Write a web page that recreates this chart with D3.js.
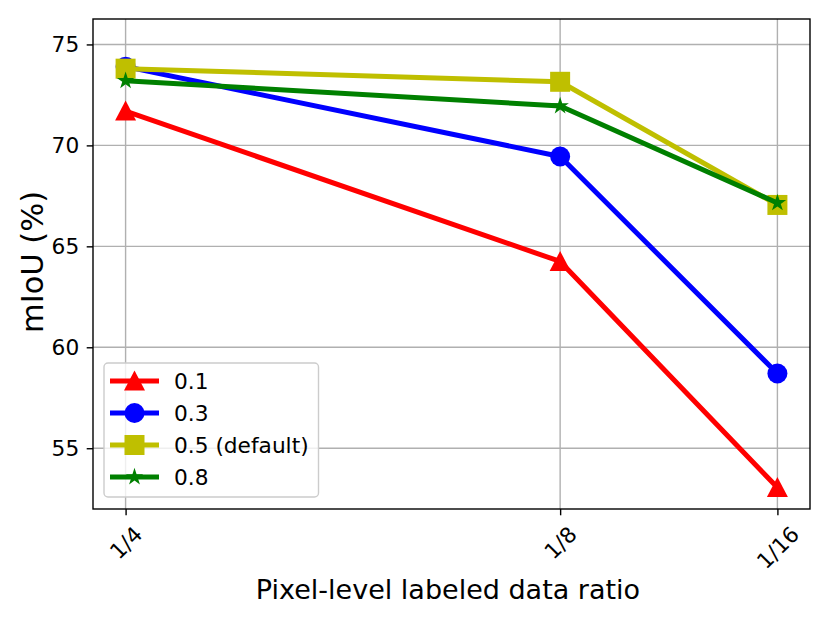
<!DOCTYPE html>
<html>
<head>
<meta charset="utf-8">
<script src="https://cdn.jsdelivr.net/npm/d3@7"></script>
<style>
  body { margin: 0; background: #fff; }
  text { font-family: "DejaVu Sans", sans-serif; fill: #000; }
</style>
</head>
<body>
<div id="display"></div>
<script>
// data
const ratios = [1/4, 1/8, 1/16];
const ratio_labels = ['1/4', '1/8', '1/16'];
const y_ticks = [55, 60, 65, 70, 75];

const series_names = ['0.1', '0.3', '0.5 (default)', '0.8'];
const series_colors = ['#ff0000', '#0000ff', '#bfbf00', '#008000'];
const series_markers = ['triangle', 'circle', 'square', 'star'];
const vals_01 = [71.7, 64.25, 53.05];
const vals_03 = [73.9, 69.45, 58.7];
const vals_05 = [73.8, 73.15, 67.05];
const vals_08 = [73.2, 71.95, 67.15];
const series_vals = [vals_01, vals_03, vals_05, vals_08];

const W = 830, H = 618;
const plot = {left: 93, right: 810, top: 19, bottom: 509};
const tickFont = 21.7;

const svg = d3.select('#display')
  .append('svg')
  .attr('width', W)
  .attr('height', H);

// x axis is reversed: 1/4 on the left
const x = d3.scaleLinear()
  .domain([0.259375, 0.053125])
  .range([plot.left, plot.right]);
const y = d3.scaleLinear()
  .domain([51.99, 76.26])
  .range([plot.bottom, plot.top]);

// grid
const grid = svg.append('g');
ratios.forEach(r => {
  grid.append('line')
    .attr('x1', x(r)).attr('x2', x(r))
    .attr('y1', plot.top).attr('y2', plot.bottom)
    .attr('stroke', '#b0b0b0').attr('stroke-width', 1.4);
});
y_ticks.forEach(t => {
  grid.append('line')
    .attr('x1', plot.left).attr('x2', plot.right)
    .attr('y1', y(t)).attr('y2', y(t))
    .attr('stroke', '#b0b0b0').attr('stroke-width', 1.4);
});

// axes
const xAxis = d3.axisBottom(x)
  .tickValues(ratios)
  .tickFormat((d, i) => ratio_labels[i])
  .tickSize(6.3)
  .tickSizeOuter(0);
const gx = svg.append('g')
  .attr('transform', `translate(0,${plot.bottom})`)
  .call(xAxis);
gx.select('.domain').remove();
gx.selectAll('.tick line').attr('stroke', '#000').attr('stroke-width', 1.4);
gx.selectAll('.tick text').remove();
gx.selectAll('.tick').each(function (d, i) {
  const lbl = ratio_labels[i];
  const t = d3.select(this).append('text')
    .attr('text-anchor', 'middle')
    .attr('dominant-baseline', 'central')
    .attr('font-size', tickFont + 'px')
    .text(lbl);
  // rotated box sits just under the tick, like matplotlib
  const w = t.node().getComputedTextLength();
  const h = tickFont * 1.164;
  const cy = 12.6 + (w + h) / Math.SQRT2 / 2;
  t.attr('transform', `translate(0,${cy}) rotate(-45)`);
});

const yAxis = d3.axisLeft(y)
  .tickValues(y_ticks)
  .tickSize(6.3)
  .tickPadding(7.5)
  .tickSizeOuter(0);
const gy = svg.append('g')
  .attr('transform', `translate(${plot.left},0)`)
  .call(yAxis);
gy.select('.domain').remove();
gy.selectAll('.tick line').attr('stroke', '#000').attr('stroke-width', 1.4);
gy.selectAll('.tick text')
  .attr('font-size', tickFont + 'px')
  .attr('font-family', '"DejaVu Sans", sans-serif')
  .attr('fill', '#000');

// frame
svg.append('rect')
  .attr('x', plot.left).attr('y', plot.top)
  .attr('width', plot.right - plot.left)
  .attr('height', plot.bottom - plot.top)
  .attr('fill', 'none')
  .attr('stroke', '#000')
  .attr('stroke-width', 1.4);

// markers
function markerPath(kind) {
  if (kind === 'triangle') return 'M0,-10.5L10.5,9.5L-10.5,9.5Z';
  if (kind === 'circle') return d3.symbol(d3.symbolCircle, Math.PI * 100)();
  if (kind === 'square') return d3.symbol(d3.symbolSquare, 400)();
  return d3.symbol(d3.symbolStar, 95)();
}

const line = d3.line()
  .x((d, i) => x(ratios[i]))
  .y(d => y(d));

series_vals.forEach((vals, s) => {
  const g = svg.append('g');
  g.append('path')
    .datum(vals)
    .attr('d', line)
    .attr('fill', 'none')
    .attr('stroke', series_colors[s])
    .attr('stroke-width', 5)
    .attr('stroke-linejoin', 'round');
  g.selectAll('.mk')
    .data(vals)
    .enter()
    .append('path')
    .attr('d', markerPath(series_markers[s]))
    .attr('transform', (d, i) => `translate(${x(ratios[i])},${y(d)})`)
    .attr('fill', series_colors[s]);
});

// legend
const leg = svg.append('g').attr('transform', 'translate(104,363)');
leg.append('rect')
  .attr('width', 214.5).attr('height', 134)
  .attr('rx', 4).attr('ry', 4)
  .attr('fill', 'white').attr('fill-opacity', 0.8)
  .attr('stroke', '#cccccc').attr('stroke-width', 1.4);
series_names.forEach((name, s) => {
  const ry = 18 + s * 32;
  leg.append('line')
    .attr('x1', 6).attr('x2', 55)
    .attr('y1', ry).attr('y2', ry)
    .attr('stroke', series_colors[s])
    .attr('stroke-width', 5);
  leg.append('path')
    .attr('d', markerPath(series_markers[s]))
    .attr('transform', `translate(30.5,${ry})`)
    .attr('fill', series_colors[s]);
  leg.append('text')
    .attr('x', 70).attr('y', ry)
    .attr('dominant-baseline', 'central')
    .attr('font-size', tickFont + 'px')
    .text(name);
});

// axis titles
svg.append('text')
  .attr('x', 448)
  .attr('y', 599)
  .attr('text-anchor', 'middle')
  .attr('font-size', '27px')
  .text('Pixel-level labeled data ratio');

svg.append('text')
  .attr('transform', 'translate(43,262) rotate(-90)')
  .attr('text-anchor', 'middle')
  .attr('font-size', '30.5px')
  .text('mIoU (%)');
</script>
</body>
</html>
